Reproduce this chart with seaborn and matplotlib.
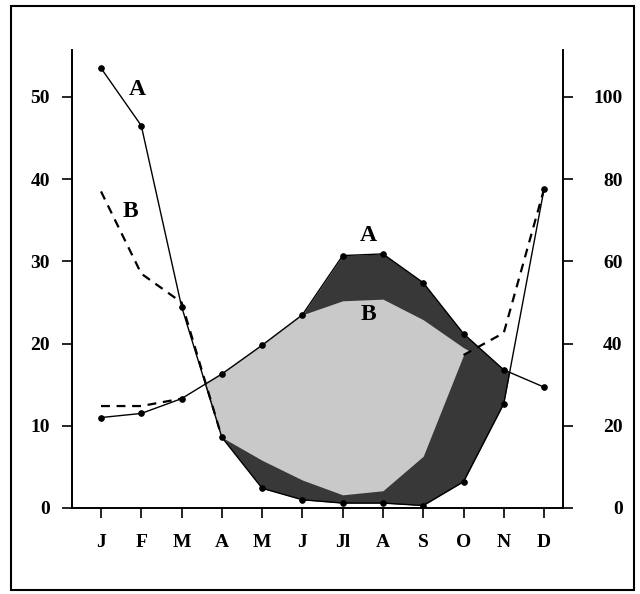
import numpy as np
import seaborn as sns
import matplotlib.pyplot as plt
from matplotlib.patches import Rectangle

# climate diagram, two stations A and B (P = 2T scale)
months = ["J", "F", "M", "A", "M", "J", "Jl", "A", "S", "O", "N", "D"]
temp_a = [11.0, 11.5, 13.3, 16.3, 19.8, 23.5, 30.7, 30.9, 27.4, 21.2, 16.8, 14.7]
temp_b = [12.4, 12.4, 13.3, 16.3, 19.8, 23.5, 25.2, 25.4, 22.9, 19.5, 16.8, 14.7]
precip_a = [107, 93, 49, 17.2, 4.8, 2.0, 1.2, 1.2, 0.6, 6.4, 25.4, 77.6]
precip_b = [77, 57, 50, 17.2, 11.6, 6.8, 3.2, 4.2, 12.6, 37.2, 42.6, 77.6]
temp_ticks = [0, 10, 20, 30, 40, 50]
precip_ticks = [0, 20, 40, 60, 80, 100]

sns.set_style("ticks", {"axes.edgecolor": "black", "text.color": "black",
                        "xtick.color": "black", "ytick.color": "black"})
plt.rcParams["font.family"] = ["Liberation Serif", "DejaVu Serif"]
plt.rcParams["font.weight"] = "bold"

x = np.arange(len(months))
ta, tb = np.array(temp_a), np.array(temp_b)
pa, pb = np.array(precip_a) / 2, np.array(precip_b) / 2

fig = plt.figure(figsize=(6.4, 5.94), dpi=100)
ax = fig.add_axes([72 / 640, 86 / 594, 491 / 640, 458 / 594])
ax2 = ax.twinx()

# dry season fills
ax.fill_between(x, pa, ta, where=ta > pa, interpolate=True, color="#383838", lw=0, zorder=1)
ax.fill_between(x, pb, tb, where=tb > pb, interpolate=True, color="#c9c9c9", lw=0, zorder=2)

# temperature
sns.lineplot(x=x, y=ta, ax=ax, color="black", lw=1.0, marker="o", markersize=4,
             markeredgecolor="black", zorder=3)
sns.lineplot(x=x[:3], y=tb[:3], ax=ax, color="black", lw=1.6, linestyle=(0, (4, 3)), zorder=3)

# precipitation
sns.lineplot(x=x, y=precip_a, ax=ax2, color="black", lw=1.0, marker="o", markersize=4,
             markeredgecolor="black")
sns.lineplot(x=x[:4], y=precip_b[:4], ax=ax2, color="black", lw=1.6, linestyle=(0, (4, 3)))
sns.lineplot(x=x[9:], y=precip_b[9:], ax=ax2, color="black", lw=1.6, linestyle=(0, (4, 3)))

ax.set_xlim(-0.72, 11.47)
ax.set_ylim(0, 55.7)
ax2.set_ylim(0, 111.4)
ax.set_xticks(x)
ax.set_xticklabels(months)
ax.set_yticks(temp_ticks)
ax2.set_yticks(precip_ticks)
ax.set_xlabel("")
ax.set_ylabel("")
ax2.set_ylabel("")

for a in (ax, ax2):
    a.spines["top"].set_visible(False)
    for s in a.spines.values():
        s.set_linewidth(1.4)
        s.set_color("black")
ax.spines["right"].set_visible(False)
ax2.spines["left"].set_visible(False)
ax2.spines["bottom"].set_visible(False)

ax.tick_params(axis="x", length=7, width=1.2, pad=12, labelsize=14, colors="black")
ax.tick_params(axis="y", length=7, width=1.2, pad=9, labelsize=14, colors="black")
ax2.tick_params(axis="y", length=7, width=1.2, pad=36, labelsize=14, colors="black")
for lab in ax2.get_yticklabels():
    lab.set_horizontalalignment("right")

ax.text(0.89, 50.9, "A", fontsize=17, fontweight="bold", ha="center", va="center", color="black")
ax.text(0.74, 36.1, "B", fontsize=17, fontweight="bold", ha="center", va="center", color="black")
ax.text(6.63, 33.1, "A", fontsize=17, fontweight="bold", ha="center", va="center", color="black")
ax.text(6.65, 23.5, "B", fontsize=17, fontweight="bold", ha="center", va="center",
        color="black", zorder=5)

fig.patches.append(Rectangle((11 / 640, 4 / 594), 623 / 640, 584 / 594, fill=False,
                             lw=1.5, ec="black", transform=fig.transFigure))

fig.savefig("out.png", dpi=100)
